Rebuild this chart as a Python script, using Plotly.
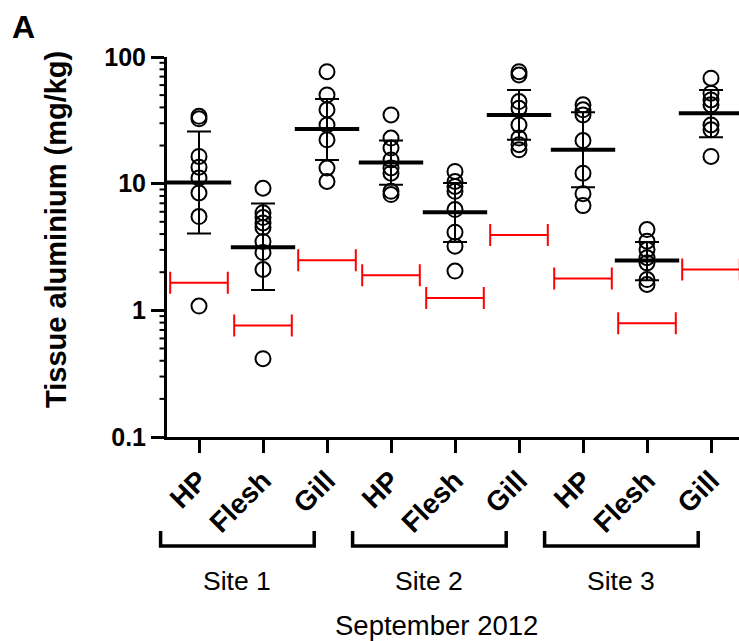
import math
import plotly.graph_objects as go

# Tissue aluminium (mg/kg) per site and tissue, September 2012
tissues = ["HP", "Flesh", "Gill"]
sites = ["Site 1", "Site 2", "Site 3"]
categories = [t for s in sites for t in tissues]

site1_hp = [34.0, 32.5, 16.4, 13.5, 11.1, 8.45, 5.5, 1.08]
site1_flesh = [9.2, 5.9, 5.4, 4.9, 4.5, 3.5, 2.86, 2.1, 0.415]
site1_gill = [76.6, 50.2, 38.3, 29.1, 22.2, 13.3, 10.4]
site2_hp = [34.9, 22.9, 19.1, 15.4, 13.3, 12.1, 8.7, 8.2]
site2_flesh = [12.5, 10.4, 9.5, 8.7, 6.24, 4.14, 3.21, 2.04]
site2_gill = [76.6, 72.1, 44.5, 39.4, 29.1, 22.9, 20.3, 18.5]
site3_hp = [41.9, 38.3, 34.9, 21.9, 12.1, 8.34, 6.71]
site3_flesh = [4.34, 3.51, 3.02, 2.6, 2.37, 1.75, 1.6]
site3_gill = [68.0, 51.8, 45.8, 41.9, 29.1, 26.6, 16.4]

samples = [site1_hp, site1_flesh, site1_gill,
           site2_hp, site2_flesh, site2_gill,
           site3_hp, site3_flesh, site3_gill]

# Central value and spread bounds for each group
centre = [10.2, 3.15, 27.0, 14.7, 5.94, 34.9, 18.5, 2.47, 36.0]
upper = [25.8, 6.96, 46.7, 21.9, 10.1, 55.0, 36.7, 3.47, 55.0]
lower = [4.04, 1.45, 15.4, 9.82, 3.47, 22.2, 9.35, 1.73, 23.2]

# Reference level shown in red for each group
reference_level = [1.65, 0.76, 2.49, 1.89, 1.25, 3.94, 1.78, 0.79, 2.10]

# y-axis labels
y_ticks = [0.1, 1, 10, 100]
y_ticktext = ["0.1", "1", "10", "100"]
y_minor_ticks = [m * 10.0 ** e for e in (-1, 0, 1) for m in range(2, 10)]
Y_LOG_RANGE = [-1, 2]

FONT = "Liberation Sans"
W, H = 739, 641
ML, MR, MT, MB = 167, 0, 57, 204
PX_PER_CAT = 64.0

plot_w = W - ML - MR
plot_h = H - MT - MB
x_left = -0.5
x_right = x_left + plot_w / PX_PER_CAT

fig = go.Figure()

# individual samples
xs, ys = [], []
for i, vals in enumerate(samples):
    xs += [i] * len(vals)
    ys += vals
fig.add_trace(go.Scatter(
    x=xs, y=ys, mode="markers",
    marker=dict(symbol="circle-open", size=15, color="black",
                line=dict(width=2, color="black")),
    showlegend=False, hoverinfo="y"))

# red reference bars
fig.add_trace(go.Scatter(
    x=list(range(len(categories))), y=reference_level, mode="markers",
    marker=dict(size=1, color="rgba(0,0,0,0)"),
    error_x=dict(type="constant", value=0.45, color="#ff0000",
                 thickness=2, width=11),
    showlegend=False, hoverinfo="y"))

# spread bars
fig.add_trace(go.Scatter(
    x=list(range(len(categories))), y=centre, mode="markers",
    marker=dict(size=1, color="rgba(0,0,0,0)"),
    error_y=dict(type="data", symmetric=False,
                 array=[u - c for u, c in zip(upper, centre)],
                 arrayminus=[c - l for c, l in zip(centre, lower)],
                 color="black", thickness=2, width=12),
    showlegend=False, hoverinfo="skip"))

# centre lines
fig.add_trace(go.Scatter(
    x=list(range(len(categories))), y=centre, mode="markers",
    marker=dict(symbol="line-ew", size=46, color="black",
                line=dict(width=4, color="black")),
    showlegend=False, hoverinfo="y"))


def py(pixel_y):
    """Convert a pixel row to paper y."""
    return (H - MB - pixel_y) / plot_h


def px(pixel_x):
    """Convert a pixel column to paper x."""
    return (pixel_x - ML) / plot_w


def xdata_to_paper(xv):
    return (xv - x_left) / (x_right - x_left)


def ydata_to_paper(v):
    lo, hi = Y_LOG_RANGE
    return (math.log10(v) - lo) / (hi - lo)


# short intermediate ticks within each decade, outside the y axis line
for v in y_minor_ticks:
    yp = ydata_to_paper(v)
    fig.add_shape(type="line", xref="paper", yref="paper",
                  x0=px(159.5), x1=px(166), y0=yp, y1=yp,
                  line=dict(color="black", width=2))

# site brackets and labels beneath the tissue labels
n_t = len(tissues)
for k, site in enumerate(sites):
    x0 = xdata_to_paper(k * n_t - 0.6)
    x1 = xdata_to_paper((k + 1) * n_t - 1 - 0.2)
    yb, yt = py(546), py(531)
    fig.add_shape(type="path", xref="paper", yref="paper",
                  path=f"M {x0},{yt} L {x0},{yb} L {x1},{yb} L {x1},{yt}",
                  line=dict(color="black", width=3.5))
    fig.add_annotation(x=(x0 + x1) / 2, y=py(581), xref="paper", yref="paper",
                       text=site, showarrow=False,
                       xanchor="center", yanchor="middle",
                       font=dict(family=FONT, size=26.5, color="black"))

fig.add_annotation(x=px(436), y=py(625), xref="paper", yref="paper",
                   text="September 2012", showarrow=False,
                   xanchor="center", yanchor="middle",
                   font=dict(family=FONT, size=27.5, color="black"))

fig.add_annotation(x=px(56), y=py(230), xref="paper", yref="paper",
                   text="Tissue aluminium (mg/kg)", textangle=-90,
                   showarrow=False, xanchor="center", yanchor="middle",
                   font=dict(family=FONT, size=29, color="black", weight="bold"))

fig.add_annotation(x=px(10), y=py(27), xref="paper", yref="paper",
                   text="A", showarrow=False, xanchor="left", yanchor="middle",
                   font=dict(family=FONT, size=32, color="black", weight="bold"))

fig.update_layout(
    width=W, height=H,
    margin=dict(l=ML, r=MR, t=MT, b=MB, pad=0),
    paper_bgcolor="white", plot_bgcolor="white",
    showlegend=False,
    xaxis=dict(range=[x_left, x_right], tickmode="array",
               tickvals=list(range(len(categories))), ticktext=categories,
               tickangle=-45, ticks="outside", ticklen=13, tickwidth=3,
               tickcolor="black", showline=True, linewidth=3, linecolor="black",
               showgrid=False, zeroline=False,
               tickfont=dict(family=FONT, size=28, color="black", weight="bold")),
    yaxis=dict(type="log", range=Y_LOG_RANGE, tickmode="array",
               tickvals=y_ticks, ticktext=y_ticktext,
               ticks="outside", ticklen=13, tickwidth=3, tickcolor="black",
               showline=True, linewidth=3, linecolor="black",
               showgrid=False, zeroline=False,
               tickfont=dict(family=FONT, size=25, color="black", weight="bold")),
)

fig.write_html("out.html")
